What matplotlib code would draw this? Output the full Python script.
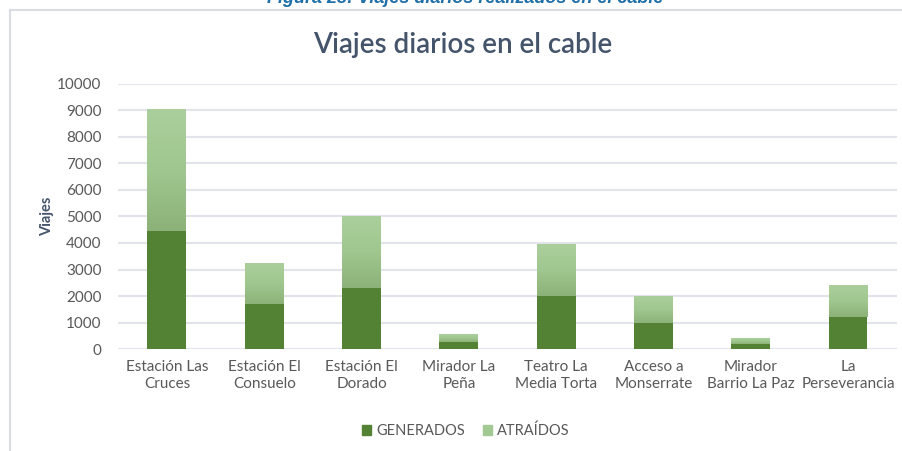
import numpy as np
import matplotlib
matplotlib.use("Agg")
import matplotlib.pyplot as plt
from matplotlib.colors import LinearSegmentedColormap
from matplotlib.lines import Line2D

estaciones = ["Estación Las\nCruces", "Estación El\nConsuelo", "Estación El\nDorado",
              "Mirador La\nPeña", "Teatro La\nMedia Torta", "Acceso a\nMonserrate",
              "Mirador\nBarrio La Paz", "La\nPerseverancia"]
generados = [4450, 1700, 2300, 250, 2000, 1000, 200, 1200]
atraidos = [4600, 1550, 2700, 300, 1950, 1000, 200, 1200]

plt.rcParams['font.family'] = ['Lato', 'DejaVu Sans']

fig = plt.figure(figsize=(9.03, 4.51), dpi=100)
ax = fig.add_axes([0.131, 0.226, 0.862, 0.588])

x = np.arange(len(estaciones))
w = 0.4
ax.bar(x, generados, width=w, color="#548235", zorder=2)

# barras de atraidos con degradado (claro arriba, mas oscuro abajo)
cmap = LinearSegmentedColormap.from_list("atr", ["#8CB279", "#A0C78F", "#ABCF9C"])
grad = np.linspace(0, 1, 100).reshape(-1, 1)
bars = ax.bar(x, atraidos, width=w, bottom=generados, color="none", zorder=2)
for b in bars:
    x0, y0 = b.get_x(), b.get_y()
    im = ax.imshow(grad, cmap=cmap, aspect="auto", origin="lower",
                   extent=[x0, x0 + b.get_width(), y0, y0 + b.get_height()], zorder=2)
    im.set_clip_path(b)

ax.set_xlim(-0.5, len(estaciones) - 0.5)
ax.set_ylim(0, 10000)
ax.set_yticks(range(0, 10001, 1000))
ax.grid(axis="y", color="#E1E4EA", linewidth=1.5, zorder=0)
ax.set_axisbelow(True)
for s in ax.spines.values():
    s.set_visible(False)
ax.tick_params(length=0, labelsize=11, colors="#595959", pad=8)
ax.tick_params(axis="y", pad=12)
ax.set_xticks(x)
ax.set_xticklabels(estaciones, linespacing=1.3)
ax.set_ylabel("Viajes", fontsize=10.5, fontweight="bold", color="#44546A", labelpad=2)

fig.text(0.512, 0.9, "Viajes diarios en el cable", ha="center", va="center",
         fontsize=20, fontweight="semibold", color="#44546A")
fig.text(0.515, 1.003, "Figura 23: Viajes diarios realizados en el cable", ha="center",
         va="center", fontsize=13, color="#1F6FA8", fontweight="bold", style="italic",
         family="Liberation Sans")

# borde del area del grafico
fig.add_artist(Line2D([10 / 903, 10 / 903], [0, 1 - 10 / 451], transform=fig.transFigure,
                      color="#D9DCE2", linewidth=1.5))
fig.add_artist(Line2D([10 / 903, 1], [1 - 10 / 451, 1 - 10 / 451], transform=fig.transFigure,
                      color="#D9DCE2", linewidth=1.5))

handles = [plt.Rectangle((0, 0), 1, 1, color="#548235"),
           plt.Rectangle((0, 0), 1, 1, color="#A3C993")]
fig.legend(handles, ["GENERADOS", "ATRAÍDOS"], loc="center", bbox_to_anchor=(0.516, 0.044),
           ncol=2, frameon=False, handlelength=0.65, handleheight=0.65, handletextpad=0.35,
           columnspacing=1.2, prop={"size": 10.5}, labelcolor="#595959")

fig.savefig("out.png", dpi=100)
